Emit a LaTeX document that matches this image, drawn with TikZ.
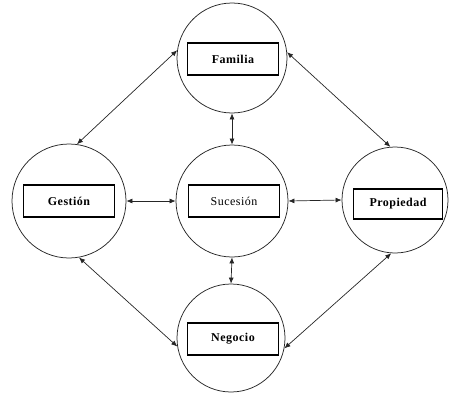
\documentclass[tikz,border=0pt]{standalone}
\usepackage{fontspec}
\setmainfont{Liberation Serif}
\newfontfamily\lblfont[LetterSpace=4]{Liberation Serif}
\usetikzlibrary{arrows.meta}
\begin{document}
\begin{tikzpicture}[x=1pt,y=-1pt,
  ring/.style={circle,draw=black!85,line width=0.75pt,inner sep=0pt},
  label box/.style={rectangle,draw=black,line width=1.1pt,minimum width=91pt,
    minimum height=32pt,inner sep=0pt,font=\lblfont\fontsize{12}{14}\selectfont},
  link/.style={line width=0.7pt,draw=black!85,{Latex[length=6pt,width=5pt]}-{Latex[length=6pt,width=5pt]}}]
  \useasboundingbox (0,0) rectangle (449,396);
  % circles
  \node[ring,minimum size=110pt] (fam) at (232,58) {};
  \node[ring,minimum size=112pt] (suc) at (232,201) {};
  \node[ring,minimum size=114pt] (ges) at (69,201) {};
  \node[ring,minimum size=106pt] (pro) at (395,200) {};
  \node[ring,minimum size=108pt] (neg) at (231,338) {};
  % labels
  \node[label box] (famt) at (233,59) {\bfseries Familia};
  \node[label box] (suct) at (234,201) {Sucesión};
  \node[label box] (gest) at (69,201) {\bfseries Gestión};
  \node[label box,minimum width=89pt,minimum height=30pt] (prot) at (398,204) {\bfseries Propiedad};
  \node[label box] (negt) at (233,339) {\bfseries Negocio};
  % connectors
  \draw[link] (fam.south) -- (suc.north);
  \draw[link] (suc.south) -- (neg.north);
  \draw[link] (ges.east) -- (suc.west);
  \draw[link] (suc.east) -- (pro.west);
  \draw[link] (ges.82) -- (fam.172);
  \draw[link] (fam.6) -- (pro.95);
  \draw[link] (ges.-80) -- (neg.189);
  \draw[link] (pro.-94) -- (neg.-11);
\end{tikzpicture}
\end{document}
